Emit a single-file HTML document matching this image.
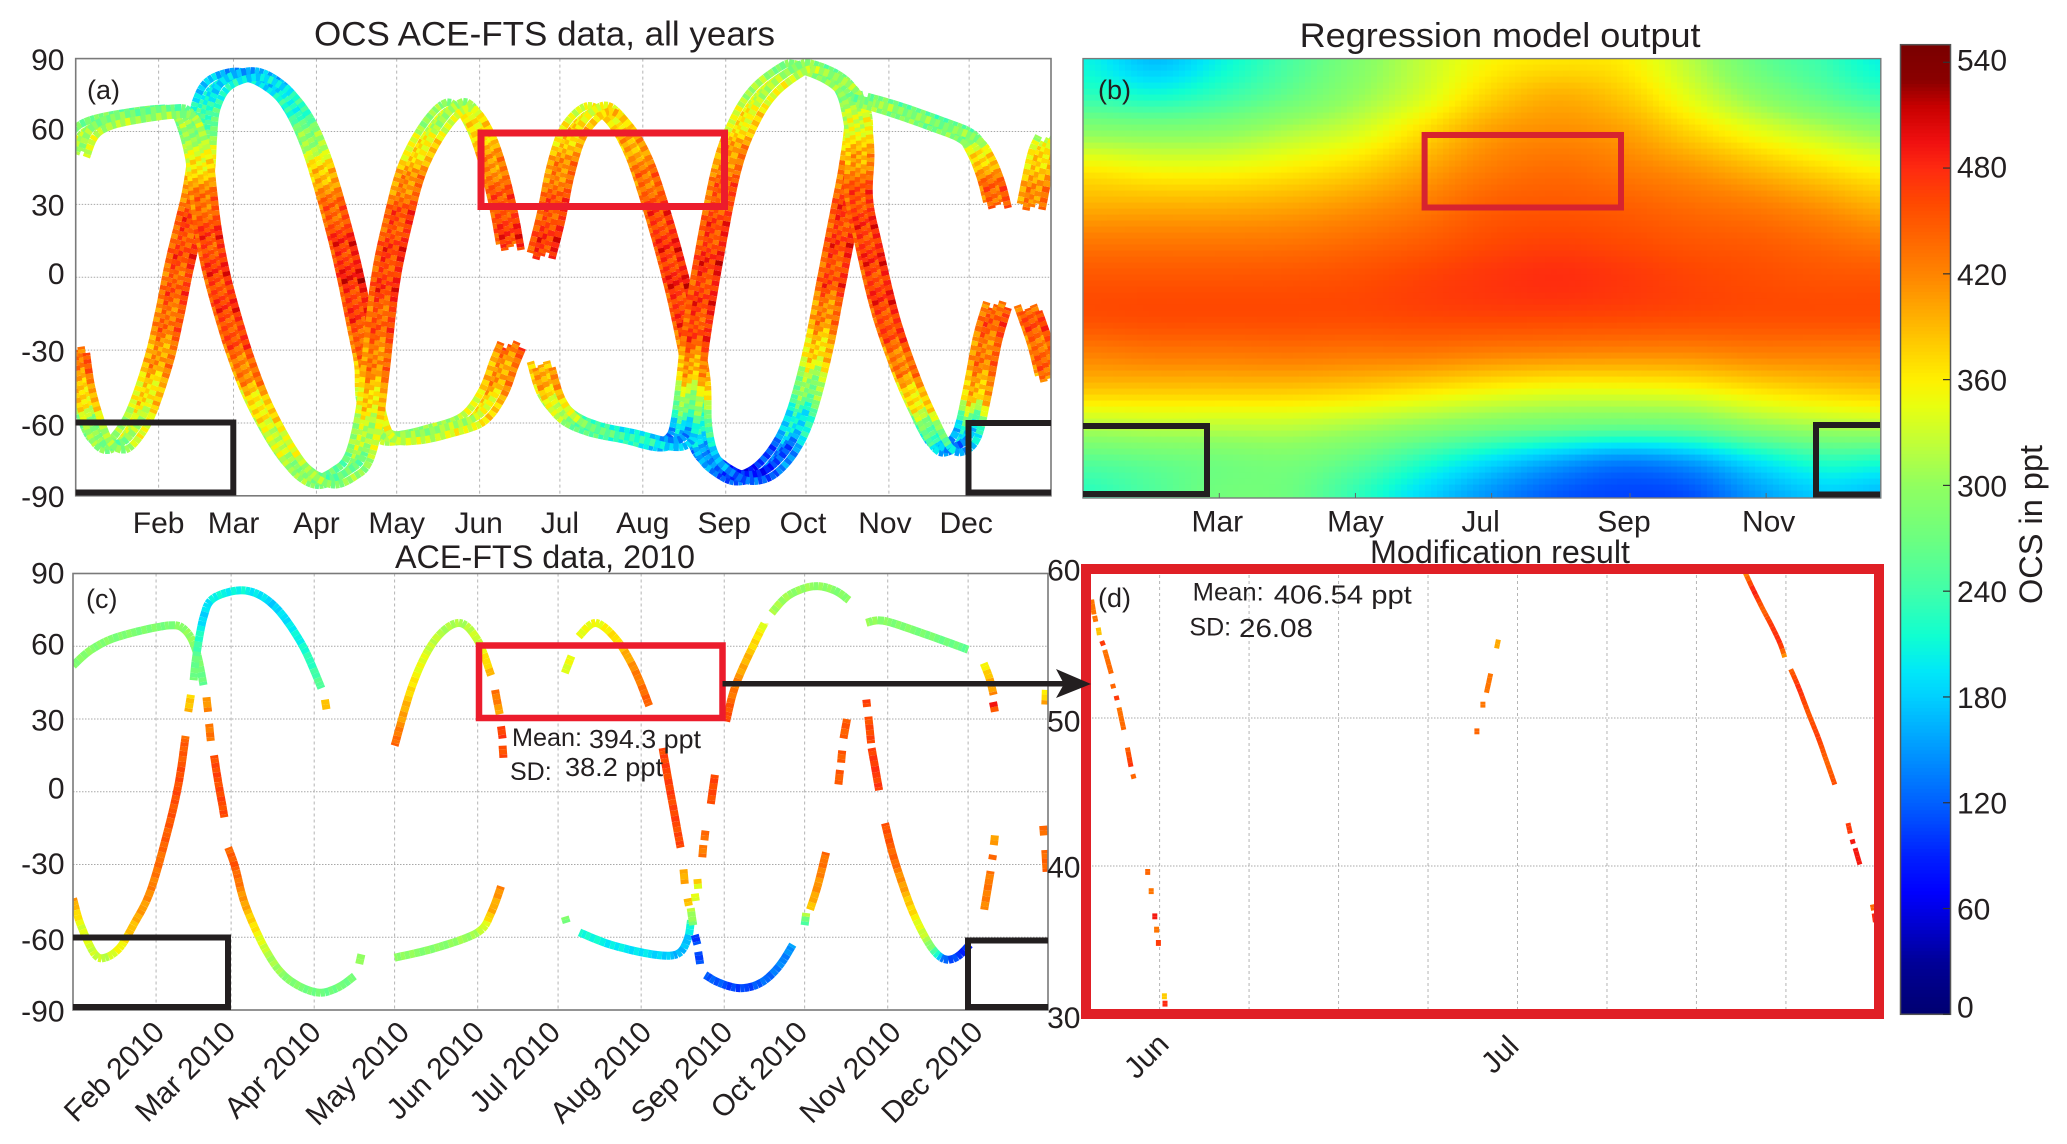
<!DOCTYPE html>
<html lang="en">
<head>
<meta charset="utf-8">
<title>OCS ACE-FTS data and regression model</title>
<style>
  html, body { margin: 0; padding: 0; background: #fff; }
  #figure { display: block; width: 2067px; height: 1144px; }
  text { font-family: "Liberation Sans", sans-serif; fill: #231f20; }
</style>
</head>
<body>
<svg id="figure" xmlns="http://www.w3.org/2000/svg" width="2067" height="1144" viewBox="0 0 2067 1144">
  <defs>
    <clipPath id="clip-a"><rect x="75.7" y="58.6" width="975.3" height="437.2"/></clipPath>
    <clipPath id="clip-c"><rect x="73" y="573.5" width="975" height="436.5"/></clipPath>
    <clipPath id="clip-d"><rect x="1086" y="569" width="793" height="445"/></clipPath>
  </defs>
  <rect x="0" y="0" width="2067" height="1144" fill="#ffffff"/>

  <g id="panel-a">
    <g id="grid-a"></g>
    <g id="marks-a" clip-path="url(#clip-a)"></g>
    <rect x="75.7" y="58.6" width="975.3" height="437.2" fill="none" stroke="#7a7a7a" stroke-width="1.6"/>
    <g id="labels-a"></g>
    <text x="314" y="45.5" font-size="34" textLength="461" lengthAdjust="spacingAndGlyphs">OCS ACE-FTS data, all years</text>
    <text x="87" y="99" font-size="27">(a)</text>
    <rect x="481" y="133" width="243.5" height="73.5" fill="none" stroke="#ec1c2c" stroke-width="7"/>
    <path d="M75.7 422.5H233.3V492.5H75.7" fill="none" stroke="#231f20" stroke-width="6"/>
    <path d="M1051 423H968.5V492.5H1051" fill="none" stroke="#231f20" stroke-width="6"/>
  </g>

  <g id="panel-b">
    <g id="cells-b"></g>
    <rect x="1083" y="58.6" width="797.8" height="439.4" fill="none" stroke="#7a7a7a" stroke-width="1.4"/>
    <g id="labels-b"></g>
    <text x="1299.6" y="47" font-size="34" textLength="401" lengthAdjust="spacingAndGlyphs">Regression model output</text>
    <text x="1098" y="99" font-size="27">(b)</text>
    <rect x="1424.6" y="135" width="196.4" height="72.5" fill="none" stroke="#d7232f" stroke-width="6"/>
    <path d="M1083 426H1207V494H1083" fill="none" stroke="#231f20" stroke-width="6"/>
    <path d="M1880 425H1816V494.5H1880" fill="none" stroke="#231f20" stroke-width="6"/>
  </g>

  <g id="panel-c">
    <g id="grid-c"></g>
    <g id="marks-c" clip-path="url(#clip-c)"></g>
    <rect x="73" y="573.5" width="975" height="436.5" fill="none" stroke="#7a7a7a" stroke-width="1.6"/>
    <g id="labels-c"></g>
    <text x="395" y="568" font-size="32" textLength="300" lengthAdjust="spacingAndGlyphs">ACE-FTS data, 2010</text>
    <text x="86" y="608" font-size="27">(c)</text>
    <rect x="479" y="645.5" width="243.5" height="72.5" fill="none" stroke="#ec1c2c" stroke-width="6.5"/>
    <path d="M73 937.5H228V1007H73" fill="none" stroke="#231f20" stroke-width="6"/>
    <path d="M1048 940.5H968V1007H1048" fill="none" stroke="#231f20" stroke-width="6"/>
    <text x="512" y="746" font-size="25" textLength="70" lengthAdjust="spacingAndGlyphs">Mean:</text>
    <text x="589" y="748" font-size="26" textLength="112" lengthAdjust="spacingAndGlyphs">394.3 ppt</text>
    <text x="510" y="780" font-size="25">SD:</text>
    <text x="565" y="776" font-size="26" textLength="98" lengthAdjust="spacingAndGlyphs">38.2 ppt</text>
  </g>

  <g id="panel-d">
    <g id="grid-d"></g>
    <g id="marks-d" clip-path="url(#clip-d)"></g>
    <rect x="1086" y="569" width="793" height="445" fill="none" stroke="#e01f26" stroke-width="10"/>
    <g id="labels-d"></g>
    <text x="1370" y="563" font-size="32" textLength="260" lengthAdjust="spacingAndGlyphs">Modification result</text>
    <text x="1098" y="607" font-size="27">(d)</text>
    <text x="1192.7" y="600.5" font-size="25" textLength="71" lengthAdjust="spacingAndGlyphs">Mean:</text>
    <text x="1273.8" y="603.5" font-size="26" textLength="138" lengthAdjust="spacingAndGlyphs">406.54 ppt</text>
    <text x="1189.4" y="635.5" font-size="25">SD:</text>
    <text x="1239" y="637" font-size="26" textLength="74" lengthAdjust="spacingAndGlyphs">26.08</text>
  </g>

  <g>
    <line x1="722.5" y1="683.7" x2="1066" y2="683.7" stroke="#231f20" stroke-width="5.5"/>
    <polygon points="1056,669 1091,684 1056,698 1064,684" fill="#231f20"/>
  </g>

  <g id="colorbar">
    <g id="colorbar-cells"></g>
    <rect x="1900.5" y="44.7" width="50" height="969.6" fill="none" stroke="#555" stroke-width="1.5"/>
    <g id="colorbar-ticks"></g>
    <text transform="translate(2042 604) rotate(-90)" font-size="32" textLength="159" lengthAdjust="spacingAndGlyphs">OCS in ppt</text>
  </g>
</svg>

<script>
// ---------- colour scale ----------
const colorStopValues = [0, 30, 60, 70, 90, 120, 150, 180, 195, 215, 240, 270, 300, 320, 345, 360, 380, 400, 420, 440, 460, 480, 495, 515, 530, 550];
const colorStopHex = ["#000070","#000098","#0000e8","#0000ff","#0020ff","#0060ff","#0098ff","#00d0ff","#00e8f8","#10ffd0","#40ffaa","#6cff80","#90ff60","#b8ff40","#e8ff10","#fff000","#ffcc00","#ffa800","#ff8400","#ff6600","#ff4a00","#ff2a10","#f01010","#c80000","#8a0000","#7a0000"];

// ---------- axes data ----------
const latTicks = [90, 60, 30, 0, -30, -60, -90];
const monthTickDays = [31, 59, 90, 120, 151, 181, 212, 243, 273, 304, 334];
const monthNames = ["Feb","Mar","Apr","May","Jun","Jul","Aug","Sep","Oct","Nov","Dec"];
const monthYearNames = ["Feb 2010","Mar 2010","Apr 2010","May 2010","Jun 2010","Jul 2010","Aug 2010","Sep 2010","Oct 2010","Nov 2010","Dec 2010"];
const panelBTickDays = [59, 120, 181, 243, 304];
const panelBTickNames = ["Mar","May","Jul","Sep","Nov"];
const panelDLatTicks = [60, 50, 40, 30];
const panelDGridDays = [151, 158.5, 166, 173.5, 181, 188.5, 196, 203.5];
const panelDTickDays = [151, 181];
const panelDTickNames = ["Jun","Jul"];
const colorbarTicks = [0, 60, 120, 180, 240, 300, 360, 420, 480, 540];

// ---------- panel (a): all years tracks ----------
const panelADays = [
 [0,2,5.8,9.6,14.7,19.7,24.8,31,35,38.7,42.5,45,46.8,47.5,48.8,53.8,65,75.3,83,89.2,94.3,99.3,103,107,109.5,110.2,114.5,123.4,136,148.6,156,160,163],
 [0,3.3,9.6,22.2,35,40.4,43.7,46.3,47.5,49.3,52.6,57.6,62.7,69,77.9,85.4,93,100.6,105.7,109.5,112,115.8,120.8,125.9,133.5,141,146,151.7,156.2,160,162.5],
 [174,177.7,181.5,186.6,195.4,203,210.6,218,224.5,229,232,232.6,235.8,243.4,249.7,257.3,265,271.2,277.5,282.6,287.2,290.7,292.7,290.7],
 [174,177.7,184,194,206.8,219.4,225.7,228,230,232,237,243.4,249.7,257.3,267.4,272.5,282.6,289,292,293.2,292.7,296.5,302.8,310.4,316.7,323,328,333.2,337,340.8,344.6],
 [294,305.4,320.5,333.2,338.2,342,344.6],
 [356,361,364],
 [357.2,361,364]
];
const panelALats = [
 [-30,-44.6,-59,-67.7,-69.8,-64.8,-54.7,-34.5,-15.7,4.5,21.8,33.3,46,59.3,70.8,80,83.5,78,68,53.5,36,16,-1.3,-23,-37.4,-51.8,-64.8,-66.2,-63.3,-58.3,-47.5,-36,-28],
 [50.6,59.3,63.6,66.5,68.2,67.2,59.3,47.8,36.2,20.3,1.6,-18.6,-36,-53,-70.6,-80.7,-84.3,-80.7,-74.9,-59,-37.4,-1.3,24.7,44.9,60.8,70,69.4,59.3,44.9,27.6,12.4],
 [8.8,24.7,44.9,60.8,69.4,63.6,49.2,24.7,-1.3,-23,-41.7,-60.5,-73.4,-80.7,-82.8,-80,-70.6,-56,-30,-1.3,24.7,44.9,63.6,75],
 [-36,-48.9,-57.6,-62.6,-65.5,-68.8,-67,-59,-41.7,-23,10,45,63.6,76.6,85.3,86.7,82.4,75.9,65,52,33.3,13,-15.7,-40,-56,-69,-70.6,-64.8,-47.5,-25.8,-11.4],
 [73,69.4,63.6,57.9,50.6,40.5,29.7],
 [-12.8,-28.7,-41.7],
 [29,49,57]
];
const panelAOcs = [
 [450,400,310,280,285,320,350,410,440,455,465,440,360,280,220,195,170,190,230,320,420,470,480,450,410,340,320,310,320,340,390,420,440],
 [320,310,300,290,280,290,300,350,420,460,465,460,430,360,320,290,275,280,290,340,420,470,460,400,330,310,330,370,420,460,470],
 [470,465,420,370,360,370,410,465,475,460,380,230,150,110,100,105,140,230,380,460,470,440,330,290],
 [410,370,290,240,215,170,140,220,380,460,475,430,360,330,310,300,285,290,330,390,460,470,465,410,330,190,135,170,400,440,450],
 [290,280,270,280,360,430,450],
 [450,440,430],
 [430,380,310]
];
const bandDayOffsets = [-4, -2, 0, 2, 4];
const bandLatOffsets = [1.2, -1.4, 0, 1.4, -1.2];
const bandOcsShifts = [-18, 14, 0, -12, 20];
const speckleOcsShifts = [0, -22, 14, -8, 26, -16, 6, -30];

// ---------- panel (c): 2010 tracks ----------
const panelCDays = [
 [0,6.8,17,35.6,42,46,48.7],[49.8,50.4],[50.8,51.4],[52.6,53.6,54.5,55.5,56.5],
 [57.9,60.5,64.4,72.3,80,90.6,98.4,105],[106.8,107.6],
 [0,2.9,8.1,12,17.3,22.5,29,35.6,39.5,42],[43,44],
 [45,46,48.7,52.6,64.4,75,85.3,92.7],[94,94.6],
 [120,127,135,144,151,156],[157.5,158.5,159.2],[159.7,160.3],[160.3,160.6],
 [120,135,151,156,159.7],[183.5,184.2],
 [189,200.5,216,225.4,229.3,230.6],[183.5,186],
 [188.7,195,203,209.7,215],[220,222.8,226.7],[227.8,228.3],[229.3,229.8],[230.5,231.4],
 [232,233],[233.3,234],
 [235.9,241,249,256.8,263.4,268.6],
 [233,233.3],[232,232.4],[236,235.6],[235.2,234.8],[238,239.5],
 [243.7,247.6,256.8,258],[260.7,267,276.4,284.3,289.5],
 [273,273.6],[275,277.8,281],
 [285.6,286.2],[286.6,287],[287.5,288.8],
 [296,296.3],[296.8,297.8],[298,300.8],
 [303,306.5,313,319.6,325,330,334.6],
 [296,302.6,318,334],
 [339.8,342,343.5],[343.3,344],
 [340,342.4],[343,343.3],[343.6,344],
 [362.8,363],[362,362.3],[362.8,363.3]
];
const panelCLats = [
 [52,58.6,64,68.6,66.5,58,44],[39,33],[28,21],[15,8,2,-4,-10.5],
 [-23,-31,-47,-66,-77,-82.7,-81,-76],[-71,-67],
 [-44,-55,-67,-68.4,-64.5,-55,-40.6,-15,4,23],[33,40],
 [46,56,72,80,83,76.8,61,42.7],[38,34],
 [19,45,62.5,69.7,62.5,48],[42,36,32],[27,22],[19,14],
 [-68.4,-64.5,-58,-50,-39],[-51.5,-54],
 [-58,-63,-67,-67,-61,-53],[49,56],
 [64,69.7,62.5,50,35.5],[18,0.6,-23],[-32,-38],[-44,-47],[-48,-55],
 [-59,-63],[-66,-71],
 [-75.5,-78.7,-81,-78.7,-72,-63],
 [-36,-40],[-42,-45],[-16,-20],[-22,-27],[-5,7],
 [29,45,67,69],[73.7,81,84.8,83,79],
 [-55,-50],[-48.6,-39,-25],
 [3,9],[12,17],[22,30],
 [38,35],[31,20],[18,0.6],
 [-13,-28,-48.6,-63,-69,-68,-63],
 [69.7,70.5,65,58.6],
 [53,46.7,40],[37,33],
 [-48.6,-32.7],[-28,-26],[-22,-18],
 [36,42],[-14,-18],[-24,-33]
];
const panelCOcs = [
 [290,290,285,280,300,290,260],[410,420],[430,430],[460,460,460,460,460],
 [440,450,400,320,290,270,270,280],[300,310],
 [420,340,330,320,350,390,420,450,460,440],[400,370],
 [280,260,180,205,205,180,210,260],[380,400],
 [450,360,320,310,330,400],[440,420,380],[470,470],[460,460],
 [300,290,310,390,420],[290,280],
 [220,200,190,165,170,240],[340,350],
 [350,345,370,420,450],[465,465,460],[400,400],[390,390],[330,280],
 [100,110],[110,110],
 [120,115,100,120,135,150],
 [400,330],[345,345],[440,440],[430,430],[460,460],
 [470,420,350,340],[320,300,300,290,290],
 [230,330],[380,410,440],
 [450,450],[450,450],[450,450],
 [470,470],[460,460],[470,470],
 [460,440,370,300,120,100,90],
 [310,290,280,260],
 [350,390,420],[510,440],
 [420,430],[440,440],[410,410],
 [420,340],[440,440],[440,440]
];

// ---------- panel (d): zoomed box tracks ----------
const panelDDays = [
 [145.3,145.5],[145.55,145.65],[145.85,145.95],[146.15,146.3],[146.4,146.95],[147.05,147.15],[147.35,147.45],[147.6,148],[148.3,148.6],[148.75,148.85],
 [150,150],[150.3,150.3],[150.6,150.6],[150.75,150.75],[150.9,150.9],[151.4,151.4],[151.45,151.45],
 [177.6,177.6],[178.1,178.1],[178.4,178.75],[179.25,179.4],
 [200.1,200.8,201.6,202.2,203,203.4],[203.9,204.6,205.4,206.2,206.9,207.6],
 [208.7,208.9],[209.05,209.15],[209.3,209.7],[210.75,210.85],[210.9,211]
];
const panelDLats = [
 [58,57],[56.9,56.5],[56.1,55.6],[55.2,54.9],[54.6,53],[52.3,52],[51.5,51.2],[50.7,49.2],[48,46.7],[46.2,45.9],
 [39.8,39.4],[38.5,38.1],[36.8,36.4],[35.9,35.5],[35,34.6],[31.4,31],[30.9,30.5],
 [49.3,48.9],[51.1,50.7],[51.7,53],[54.7,55.3],
 [59.8,58.6,57.3,56.4,55.05,54.1],[53.3,52,50.3,48.7,47.1,45.5],
 [42.9,42.2],[41.8,41.5],[41.2,40.1],[37.4,37],[36.8,36.2]
];
const panelDOcs = [
 [430,430],[430,430],[385,385],[470,470],[430,440],[440,440],[470,470],[430,440],[440,480],[440,440],
 [440,440],[430,430],[490,490],[430,430],[470,470],[380,380],[480,480],
 [440,440],[430,430],[430,430],[400,400],
 [410,490,440,470,480,400],[440,480,450,470,440,460],
 [470,470],[490,490],[490,490],[440,440],[480,480]
];

// ---------- panel (b): regression heatmap grid ----------
const heatDays = [0, 30, 60, 90, 120, 150, 180, 210, 240, 270, 300, 330, 355];
const heatLats = [90, 75, 60, 45, 30, 15, 0, -15, -30, -45, -60, -75, -90];
const heatRow90 = [205,170,205,245,285,325,355,365,360,320,265,235,205];
const heatRow75 = [230,215,235,265,300,335,375,395,380,340,295,260,235];
const heatRow60 = [295,290,295,315,335,370,405,415,405,375,345,320,300];
const heatRow45 = [360,350,350,360,375,400,425,435,425,410,390,370,355];
const heatRow30 = [395,395,395,400,410,425,445,450,445,435,425,410,395];
const heatRow15 = [428,428,428,430,437,447,460,465,460,452,447,437,428];
const heatRow0 = [452,452,452,453,457,465,473,478,472,464,458,453,452];
const heatRowS15 = [458,460,460,460,460,463,465,465,463,460,458,458,458];
const heatRowS30 = [425,430,430,432,430,430,425,422,420,420,425,425,425];
const heatRowS45 = [385,385,385,385,380,370,358,350,350,355,370,380,385];
const heatRowS60 = [320,325,325,325,315,300,285,275,270,275,300,315,320];
const heatRowS75 = [255,265,275,280,260,225,190,160,140,155,195,225,220];
const heatRowS90 = [225,250,275,270,230,185,145,115,105,110,150,175,165];
const heatMatrix = [heatRow90,heatRow75,heatRow60,heatRow45,heatRow30,heatRow15,heatRow0,heatRowS15,heatRowS30,heatRowS45,heatRowS60,heatRowS75,heatRowS90];

// ---------- axis functions ----------
const xA = d => 75.7 + d * 2.675;
const yA = lat => 277.2 - lat * 2.429;
const xB = d => 1219.3 + (d - 59) * 2.232;
const yB = lat => 278.3 - lat * 2.441;
const xC = d => 73 + d * 2.68;
const yC = lat => 791.8 - lat * 2.425;
const xD = d => 1159.6 + (d - 151) * 11.93;
const yD = lat => 570 + (60 - lat) * 14.8;
const yBar = v => 1014.3 - v * 1.763;

const NS = "http://www.w3.org/2000/svg";
function mk(tag, parent, attrs) {
  const el = document.createElementNS(NS, tag);
  for (const k in attrs) el.setAttribute(k, attrs[k]);
  parent.appendChild(el);
  return el;
}
function hexRgb(h) { return [parseInt(h.slice(1,3),16), parseInt(h.slice(3,5),16), parseInt(h.slice(5,7),16)]; }
const stopRgb = colorStopHex.map(hexRgb);
function ocsColor(v) {
  const n = colorStopValues.length;
  if (v <= colorStopValues[0]) return colorStopHex[0];
  if (v >= colorStopValues[n-1]) return colorStopHex[n-1];
  let i = 0;
  while (colorStopValues[i+1] < v) i++;
  const t = (v - colorStopValues[i]) / (colorStopValues[i+1] - colorStopValues[i]);
  const a = stopRgb[i], b = stopRgb[i+1];
  return "rgb(" + Math.round(a[0]+(b[0]-a[0])*t) + "," + Math.round(a[1]+(b[1]-a[1])*t) + "," + Math.round(a[2]+(b[2]-a[2])*t) + ")";
}
function cr(p0, p1, p2, p3, t) {
  return 0.5 * ((2*p1) + (-p0+p2)*t + (2*p0-5*p1+4*p2-p3)*t*t + (-p0+3*p1-3*p2+p3)*t*t*t);
}

// ---------- tracks ----------
function drawTrack(group, px, py, vals, width, step, speckle) {
  const n = px.length;
  let counter = 0;
  for (let i = 0; i < n - 1; i++) {
    const a = Math.max(i-1, 0), c = i+1, d = Math.min(i+2, n-1);
    const dist = Math.hypot(px[c]-px[i], py[c]-py[i]);
    const parts = Math.max(1, Math.ceil(dist / step));
    for (let k = 0; k < parts; k++) {
      const t0 = k / parts, t1 = (k + 1) / parts;
      const tone = speckle[counter++ % speckle.length];
      const line = mk("line", group, {
        x1: cr(px[a],px[i],px[c],px[d],t0).toFixed(1),
        y1: cr(py[a],py[i],py[c],py[d],t0).toFixed(1),
        x2: cr(px[a],px[i],px[c],px[d],t1).toFixed(1),
        y2: cr(py[a],py[i],py[c],py[d],t1).toFixed(1),
        stroke: ocsColor(vals[i] + (vals[c]-vals[i]) * (t0+t1)/2 + tone),
        "stroke-width": width
      });
      
      
    }
  }
}
function drawPanelTracks(gid, days, lats, ocs, xs, ys, width, step, dayOffsets, latOffsets, shifts, speckle) {
  const root = document.getElementById(gid);
  days.forEach((dayList, ti) => {
    const g = mk("g", root, {});
    
    
    dayOffsets.forEach((off, oi) => {
      const px = dayList.map(d => xs(d + off));
      const py = lats[ti].map(l => ys(l + latOffsets[oi]));
      const vals = ocs[ti].map(v => v + shifts[oi]);
      drawTrack(g, px, py, vals, width, step, speckle);
    });
  });
}
drawPanelTracks("marks-a", panelADays, panelALats, panelAOcs, xA, yA, 7.5, 5, bandDayOffsets, bandLatOffsets, bandOcsShifts, speckleOcsShifts);
drawPanelTracks("marks-c", panelCDays, panelCLats, panelCOcs, xC, yC, 8, 5, [0], [0], [0], [0, -8, 6, -4, 9]);
drawPanelTracks("marks-d", panelDDays, panelDLats, panelDOcs, xD, yD, 5, 5, [0], [0], [0], [0]);

// ---------- heatmap ----------
(function () {
  const g = document.getElementById("cells-b");
  const CELL = 6;
  function idx(arr, v, desc) {
    let i = 0;
    const n = arr.length;
    while (i < n - 2 && (desc ? arr[i+1] > v : arr[i+1] < v)) i++;
    const t = (v - arr[i]) / (arr[i+1] - arr[i]);
    return [i, Math.max(0, Math.min(1, t))];
  }
  function heat(day, lat) {
    const [r, tr] = idx(heatLats, lat, true);
    const [c, tc] = idx(heatDays, day, false);
    const rowVals = [];
    for (let ri = r-1; ri <= r+2; ri++) {
      const row = heatMatrix[Math.max(0, Math.min(heatLats.length-1, ri))];
      const m = i => row[Math.max(0, Math.min(heatDays.length-1, i))];
      rowVals.push(cr(m(c-1), m(c), m(c+1), m(c+2), tc));
    }
    return cr(rowVals[0], rowVals[1], rowVals[2], rowVals[3], tr);
  }
  const frag = document.createDocumentFragment();
  for (let y = 58.6; y < 498; y += CELL) {
    for (let x = 1083; x < 1880.8; x += CELL) {
      const w = Math.min(CELL + 0.6, 1880.8 - x), h = Math.min(CELL + 0.6, 498 - y);
      const day = 59 + (x + CELL/2 - 1219.3) / 2.232;
      const lat = (278.3 - (y + CELL/2)) / 2.441;
      const cell = document.createElementNS(NS, "rect");
      cell.setAttribute("x", x.toFixed(1));
      cell.setAttribute("y", y.toFixed(1));
      cell.setAttribute("width", w.toFixed(1));
      cell.setAttribute("height", h.toFixed(1));
      cell.setAttribute("fill", ocsColor(heat(day, lat)));
      
      
      frag.appendChild(cell);
    }
  }
  g.appendChild(frag);
})();

// ---------- colorbar ----------
(function () {
  const g = document.getElementById("colorbar-cells");
  for (let v = 0; v < 550; v += 2) {
    const r = mk("rect", g, { x: 1900.5, y: (yBar(v+2)).toFixed(1), width: 50, height: 4, fill: ocsColor(v+1) });
    
    
  }
  const t = document.getElementById("colorbar-ticks");
  const colorbarLabelNudge = [3, 0, 0, 0, 0, 0, 0, 0, -1.5, -3];
  colorbarTicks.forEach((v, i) => {
    const y = yBar(v);
    const tick = mk("line", t, { x1: 1943, x2: 1950, y1: y, y2: y, stroke: "#333", "stroke-width": 1.2 });
    
    
    const lab = mk("text", t, { x: 1957, y: y + 11 + colorbarLabelNudge[i] - (v === 0 ? 11 : 0), "font-size": 30 });
    lab.textContent = String(v);
    
    
  });
})();

// ---------- grids and labels ----------
function drawGrid(gid, xs, ys, xvals, yvals, x0, x1, y0, y1) {
  const g = document.getElementById(gid);
  xvals.forEach(d => {
    const x = xs(d);
    const l = mk("line", g, { x1: x, x2: x, y1: y0, y2: y1, stroke: "#b4b4b4", "stroke-width": 1, "stroke-dasharray": "3 3" });
    
    
  });
  yvals.forEach(v => {
    const y = ys(v);
    const l = mk("line", g, { x1: x0, x2: x1, y1: y, y2: y, stroke: "#a8a8a8", "stroke-width": 1, "stroke-dasharray": "1.5 1.5" });
    
    
  });
}
drawGrid("grid-a", xA, yA, monthTickDays, [60,30,0,-30,-60], 75.7, 1051, 58.6, 495.8);
drawGrid("grid-c", xC, yC, monthTickDays, [60,30,0,-30,-60], 73, 1048, 573.5, 1010);
drawGrid("grid-d", xD, yD, panelDGridDays, [50,40], 1086, 1879, 569, 1014);

function yLabels(gid, vals, ys, right, nudge) {
  const g = document.getElementById(gid);
  vals.forEach((v, i) => {
    const t = mk("text", g, { x: right, y: ys(v) + 10.5 + (nudge ? nudge[i] : 0), "font-size": 30, "text-anchor": "end" });
    t.textContent = String(v);
    
    
  });
}
const panelALatNudge = [1, -2.5, 0.5, -3.5, 1, 2, 0.5];
const panelCLatNudge = [-0.8, -2.5, 1, -4, -1, 2, 0.7];
const panelDLatNudge = [0, 3, 1, 3.5];
yLabels("labels-a", latTicks, yA, 64.5, panelALatNudge);
yLabels("labels-c", latTicks, yC, 64.5, panelCLatNudge);
yLabels("labels-d", panelDLatTicks, yD, 1080.5, panelDLatNudge);

(function () {
  const g = document.getElementById("labels-a");
  const panelALabelNudge = [0, 0, 0, 0, -1, 0, 0, -1.5, -3, -4, -3];
  monthNames.forEach((name, i) => {
    const t = mk("text", g, { x: xA(monthTickDays[i]) + panelALabelNudge[i], y: 533, "font-size": 30, "text-anchor": "middle" });
    t.textContent = name;
    
    
  });
  const gb = document.getElementById("labels-b");
  const panelBLabelNudge = [-2, 0, -11, -6, 2.5];
  panelBTickNames.forEach((name, i) => {
    const x = xB(panelBTickDays[i]);
    const t = mk("text", gb, { x: x + panelBLabelNudge[i], y: 531.5, "font-size": 30, "text-anchor": "middle" });
    t.textContent = name;
    
    
    const tick = mk("line", gb, { x1: x, x2: x, y1: 498, y2: 493, stroke: "#666", "stroke-width": 1 });
    
    
  });
  const gc = document.getElementById("labels-c");
  const panelCLabelNudge = [11, 7, 9.5, 17.5, 9.5, 5, 13, 11, 5.5, 16, 17.5];
  monthYearNames.forEach((name, i) => {
    const x = xC(monthTickDays[i]) + panelCLabelNudge[i] - 1;
    const t = mk("text", gc, { transform: "translate(" + x + " 1034) rotate(-45)", "font-size": 30, "text-anchor": "end" });
    t.textContent = name;
    
    
  });
  const gd = document.getElementById("labels-d");
  const panelDLabelNudgeX = [11, 3];
  const panelDLabelBaseline = [1046, 1048];
  panelDTickNames.forEach((name, i) => {
    const t = mk("text", gd, { transform: "translate(" + (xD(panelDTickDays[i]) + panelDLabelNudgeX[i]) + " " + panelDLabelBaseline[i] + ") rotate(-45)", "font-size": 30, "text-anchor": "end" });
    t.textContent = name;
    
    
  });
})();
</script>
</body>
</html>
